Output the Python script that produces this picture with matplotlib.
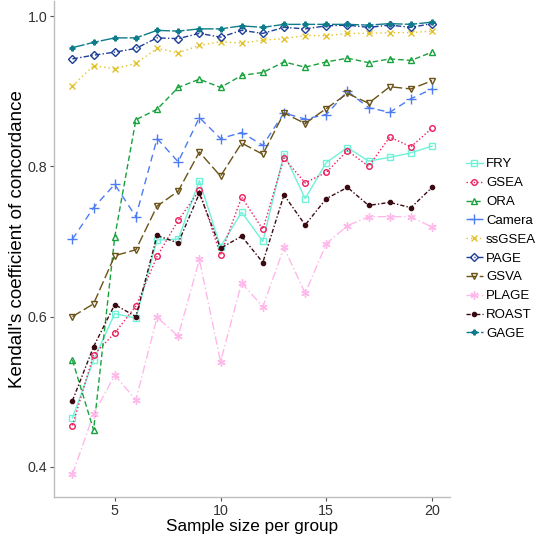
import matplotlib
matplotlib.use("Agg")
from matplotlib import pyplot as plt

plt.rcParams["font.family"] = ["Liberation Sans", "DejaVu Sans"]

sample_size = list(range(3, 21))

fry = [0.465, 0.542, 0.604, 0.598, 0.702, 0.703, 0.781, 0.693, 0.739, 0.700,
       0.817, 0.757, 0.805, 0.825, 0.807, 0.812, 0.818, 0.827]
gsea = [0.455, 0.549, 0.578, 0.614, 0.680, 0.728, 0.768, 0.682, 0.759, 0.716,
        0.811, 0.778, 0.792, 0.821, 0.800, 0.839, 0.826, 0.851]
ora = [0.542, 0.449, 0.706, 0.862, 0.876, 0.905, 0.916, 0.905, 0.921, 0.925,
       0.939, 0.932, 0.939, 0.944, 0.938, 0.943, 0.941, 0.952]
camera = [0.703, 0.745, 0.776, 0.733, 0.837, 0.806, 0.865, 0.837, 0.845, 0.828,
          0.871, 0.863, 0.869, 0.900, 0.878, 0.872, 0.890, 0.903]
ssgsea = [0.907, 0.934, 0.930, 0.937, 0.957, 0.951, 0.961, 0.966, 0.964, 0.968,
          0.970, 0.974, 0.974, 0.977, 0.977, 0.978, 0.978, 0.980]
page = [0.943, 0.948, 0.952, 0.957, 0.971, 0.970, 0.977, 0.972, 0.981, 0.977,
        0.985, 0.983, 0.987, 0.988, 0.985, 0.988, 0.985, 0.990]
gsva = [0.600, 0.617, 0.681, 0.689, 0.747, 0.767, 0.819, 0.787, 0.831, 0.816,
        0.871, 0.857, 0.877, 0.897, 0.884, 0.906, 0.903, 0.914]
plage = [0.390, 0.470, 0.522, 0.489, 0.599, 0.574, 0.676, 0.540, 0.645, 0.613,
         0.692, 0.631, 0.697, 0.721, 0.733, 0.733, 0.733, 0.719]
roast = [0.488, 0.560, 0.616, 0.600, 0.708, 0.698, 0.764, 0.691, 0.707, 0.672,
         0.762, 0.722, 0.757, 0.772, 0.748, 0.752, 0.745, 0.772]
gage = [0.958, 0.965, 0.971, 0.971, 0.981, 0.980, 0.983, 0.983, 0.987, 0.985,
        0.989, 0.989, 0.989, 0.989, 0.988, 0.990, 0.989, 0.992]

methods = ["FRY", "GSEA", "ORA", "Camera", "ssGSEA", "PAGE", "GSVA", "PLAGE", "ROAST", "GAGE"]
values = [fry, gsea, ora, camera, ssgsea, page, gsva, plage, roast, gage]

# colour, linestyle, marker, open marker?, marker size
styles = {
    "FRY": ("#70F2D8", "-", "s", True, 4),
    "GSEA": ("#EE1D5C", (0, (1, 1.6)), "o", True, 4),
    "ORA": ("#18A23C", (0, (4, 2.2)), "^", True, 5),
    "Camera": ("#4C7BF3", (0, (5, 3.5)), "+", False, 6.5),
    "ssGSEA": ("#E2C22C", (0, (1, 2.2)), "x", False, 4),
    "PAGE": ("#1E3E98", (0, (4, 1.6, 1, 1.6)), "D", True, 4),
    "GSVA": ("#6B5216", (0, (7, 2.5)), "v", True, 5),
    "PLAGE": ("#FFB8EA", (0, (6, 2, 1, 2)), (6, 2, 0), False, 6),
    "ROAST": ("#3A0A12", (0, (3, 1.5, 1, 1.5)), "o", False, 3),
    "GAGE": ("#0E7C8A", (0, (9, 1.5)), "P", False, 3.5),
}

fig = plt.figure(figsize=(5.39, 5.38), dpi=100)
ax = fig.add_axes([0.101, 0.076, 0.734, 0.922])

for name, vals in zip(methods, values):
    color, ls, marker, hollow, ms = styles[name]
    ax.plot(sample_size, vals, color=color, linestyle=ls, linewidth=1.0,
            marker=marker, markersize=ms, markeredgewidth=1.0,
            markerfacecolor="none" if hollow else color,
            markeredgecolor=color, label=name)

ax.set_xlim(2.15, 20.85)
ax.set_ylim(0.3597, 1.02)
ax.set_xticks([5, 10, 15, 20])
ax.set_yticks([0.4, 0.6, 0.8, 1.0])
ax.set_yticklabels(["0.4", "0.6", "0.8", "1.0"])
ax.set_xlabel("Sample size per group", fontsize=12.3, color="black", labelpad=1)
ax.set_ylabel("Kendall's coefficient of concordance", fontsize=13.5, color="black")
ax.yaxis.set_label_coords(-0.071, 0.52)

for side in ["top", "right"]:
    ax.spines[side].set_visible(False)
for side in ["left", "bottom"]:
    ax.spines[side].set_color("#BDBDBD")
    ax.spines[side].set_linewidth(1.0)
ax.tick_params(colors="#333333", labelsize=10.3, length=3, width=0.8, pad=2)
ax.tick_params(axis="both", color="#555555")

fig.legend(loc="center left", bbox_to_anchor=(0.864, 0.537), frameon=False,
           fontsize=9.5, handlelength=1.3, handletextpad=0.25,
           labelspacing=0.5, borderaxespad=0, borderpad=0)

fig.savefig("out.png", dpi=100)
